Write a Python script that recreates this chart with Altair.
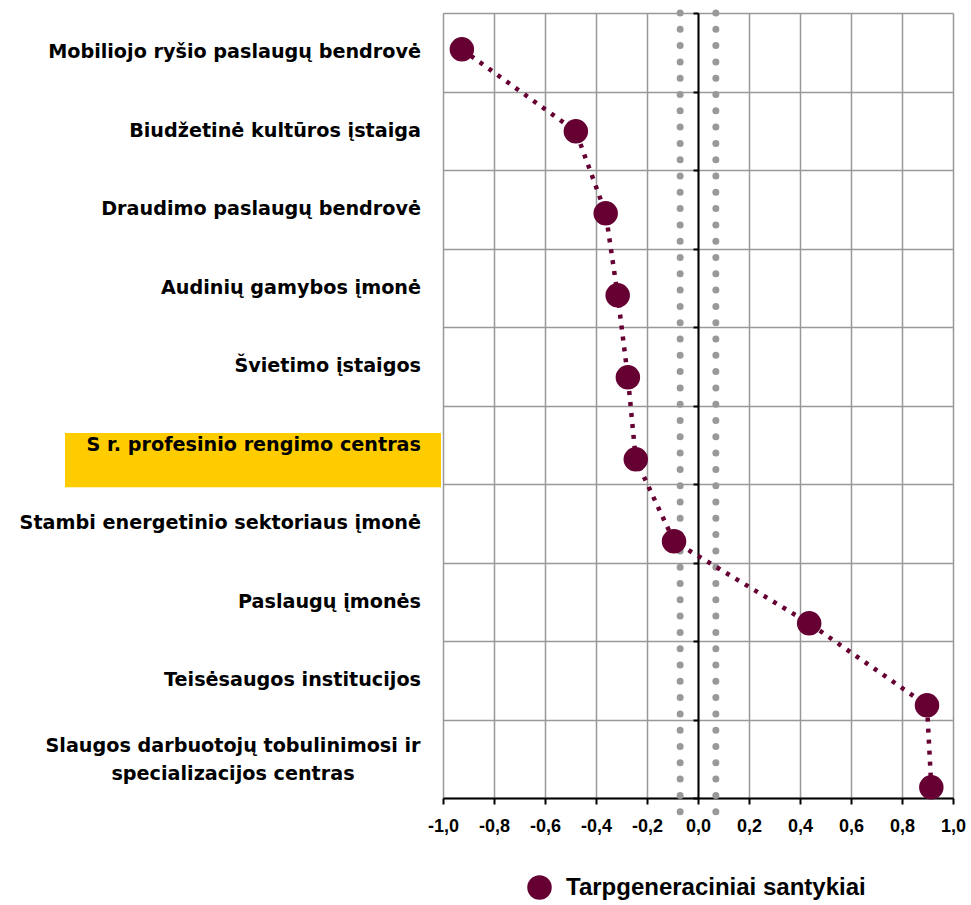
import altair as alt
import pandas as pd

# Workplaces, top to bottom, and their intergenerational-relations score
categories = [
    "Mobiliojo ryšio paslaugų bendrovė",
    "Biudžetinė kultūros įstaiga",
    "Draudimo paslaugų bendrovė",
    "Audinių gamybos įmonė",
    "Švietimo įstaigos",
    "S r. profesinio rengimo centras",
    "Stambi energetinio sektoriaus įmonė",
    "Paslaugų įmonės",
    "Teisėsaugos institucijos",
    "Slaugos darbuotojų tobulinimosi ir\nspecializacijos centras",
]
scores = [-0.926, -0.479, -0.362, -0.315, -0.275, -0.244, -0.094, 0.436, 0.898, 0.915]
series_name = "Tarpgeneraciniai santykiai"
highlighted = "S r. profesinio rengimo centras"
x_ticks = [-1.0, -0.8, -0.6, -0.4, -0.2, 0.0, 0.2, 0.4, 0.6, 0.8, 1.0]
threshold = [-0.07, 0.07]

MAROON = "#660033"
GRID = "#999999"
LABEL_FONT = "DejaVu Sans"
NUM_FONT = "Liberation Sans"

df = pd.DataFrame({
    "category": categories,
    "score": scores,
    "order": list(range(1, len(categories) + 1)),
    "series": [series_name] * len(categories),
})
df["band"] = df["order"] - 0.5
df["wrapped"] = df["category"].str.contains("\n")

band_scale = alt.Scale(domain=[0, 10], reverse=True)
point_scale = alt.Scale(domain=[0.557, 10.13], reverse=True)
x_scale = alt.Scale(domain=[-1, 1], nice=False)

base = alt.Chart(df)

# yellow box behind the highlighted category name
highlight = base.transform_filter(
    alt.datum.category == highlighted
).transform_calculate(
    y0="datum.band - 0.15", y1="datum.band + 0.54"
).mark_rect(color="#FFCC00").encode(
    x=alt.value(-378), x2=alt.value(-2),
    y=alt.Y("y0:Q", scale=band_scale, axis=None),
    y2="y1:Q",
)

# category names; this layer also carries the horizontal grid and the axis at x = 0
labels = base.transform_filter(~alt.datum.wrapped).mark_text(
    align="right", baseline="middle", font=LABEL_FONT, fontWeight="bold",
    fontSize=19.2, color="black",
).encode(
    x=alt.value(-22),
    y=alt.Y("band:Q", scale=band_scale, axis=alt.Axis(
        orient="left", offset=-255, values=list(range(11)), labels=False,
        title=None, grid=True, gridColor=GRID, gridWidth=1.5,
        domainColor="black", domainWidth=2, tickColor="black",
        tickWidth=2, tickSize=5,
    )),
    text="category:N",
)

wrapped_labels = base.transform_filter(alt.datum.wrapped).mark_text(
    align="center", baseline="middle", font=LABEL_FONT, fontWeight="bold",
    fontSize=19.2, color="black", lineBreak="\n", lineHeight=28, dy=-13,
).encode(
    x=alt.value(-210),
    y=alt.Y("band:Q", scale=band_scale, axis=None),
    text="category:N",
)

# dotted reference lines around zero
ref = alt.Chart(pd.DataFrame({"ref": threshold})).mark_rule(
    color=GRID, strokeWidth=7, strokeDash=[0, 16.3], strokeCap="round",
).encode(
    x=alt.X("ref:Q", scale=x_scale, title=None),
    y=alt.value(0), y2=alt.value(813),
)

link = base.mark_line(
    color=MAROON, strokeWidth=4.5, strokeDash=[4, 7],
).encode(
    x=alt.X("score:Q", scale=x_scale, title=None),
    y=alt.Y("order:Q", scale=point_scale, axis=None),
    order="order:Q",
)

points = base.mark_circle(size=600, opacity=1).encode(
    x=alt.X("score:Q", scale=x_scale, title=None, axis=alt.Axis(
        values=x_ticks, grid=True, gridColor=GRID, gridWidth=1.5,
        domainColor="black", domainWidth=2, tickColor="black",
        tickWidth=2, tickSize=6, labelPadding=13,
        labelFlush=False, labelOverlap=False,
        labelFont=NUM_FONT, labelFontWeight="bold", labelFontSize=18,
        labelColor="black",
        labelExpr="replace(replace(format(datum.value, '.1f'), '.', ','), '\u2212', '-')",
    )),
    y=alt.Y("order:Q", scale=point_scale, axis=None),
    color=alt.Color("series:N", scale=alt.Scale(range=[MAROON]), legend=alt.Legend(
        orient="none", legendX=84, legendY=862, title=None,
        symbolType="circle", symbolSize=600, symbolOpacity=1,
        symbolStrokeWidth=0, labelFont=NUM_FONT, labelFontWeight="bold",
        labelFontSize=24, labelColor="black", labelOffset=14, padding=0,
        labelLimit=0,
    )),
)

chart = alt.layer(
    highlight, labels, wrapped_labels, ref, link, points
).resolve_scale(y="independent").properties(
    width=510, height=785,
    autosize=alt.AutoSizeParams(type="none"),
    padding={"left": 443, "top": 13, "right": 18, "bottom": 107},
).configure_view(stroke=None).configure(background="white")

chart.save("out.html", embed_options={"renderer": "svg", "actions": False})
